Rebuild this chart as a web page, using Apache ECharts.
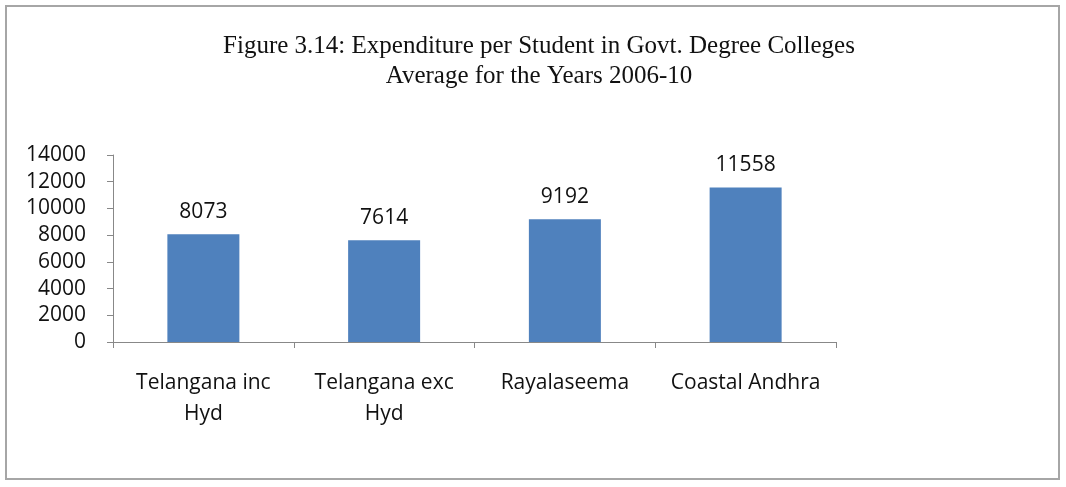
<!DOCTYPE html>
<html>
<head>
<meta charset="utf-8">
<script src="https://cdn.jsdelivr.net/npm/echarts@6/dist/echarts.min.js"></script>
<style>
  html, body { margin: 0; padding: 0; background: #fff; }
  #frame {
    position: absolute; left: 5px; top: 5px; width: 1055px; height: 475px;
    border: 2px solid #a6a6a6; box-sizing: border-box;
  }
  #chart { position: absolute; left: 0; top: 0; width: 1066px; height: 487px; }
</style>
</head>
<body>
<div id="frame"></div>
<div id="chart"></div>
<script>
  let regions = ["Telangana inc\nHyd", "Telangana exc\nHyd", "Rayalaseema", "Coastal Andhra"];
  let spending = [8073, 7614, 9192, 11558];
  let titleLines = ["Figure 3.14: Expenditure per Student in Govt. Degree Colleges", "Average for the Years 2006-10"];

  var myChart = echarts.init(document.getElementById("chart"));
  let option = {
    animation: false,
    title: {
      text: titleLines.join("\n"),
      left: 534,
      top: 26,
      textAlign: "center",
      textStyle: {
        fontFamily: "Liberation Serif",
        fontWeight: "normal",
        fontSize: 25,
        lineHeight: 30,
        color: "#111",
      },
    },
    grid: { left: 113, right: 230, top: 155, bottom: 145 },
    xAxis: {
      type: "category",
      data: regions,
      axisTick: { show: true, length: 6, lineStyle: { color: "#888" } },
      axisLine: { lineStyle: { color: "#888", width: 1 } },
      axisLabel: {
        color: "#111",
        fontFamily: "Open Sans",
        fontSize: 21,
        lineHeight: 31,
        margin: 26,
        interval: 0,
      },
    },
    yAxis: {
      type: "value",
      min: 0,
      max: 14000,
      interval: 2000,
      splitLine: { show: false },
      axisLine: { show: true, lineStyle: { color: "#888" } },
      axisTick: { show: true, length: 6, lineStyle: { color: "#888" } },
      axisLabel: {
        color: "#111",
        fontFamily: "Open Sans",
        fontSize: 21,
        margin: 27,
        formatter: function (v) { return String(v); },
      },
    },
    series: [
      {
        type: "bar",
        data: spending,
        barWidth: 72,
        itemStyle: { color: "#4F81BD" },
        label: {
          show: true,
          position: "top",
          distance: 12,
          color: "#111",
          fontFamily: "Open Sans",
          fontSize: 21,
        },
      },
    ],
  };
  myChart.setOption(option);
</script>
</body>
</html>
